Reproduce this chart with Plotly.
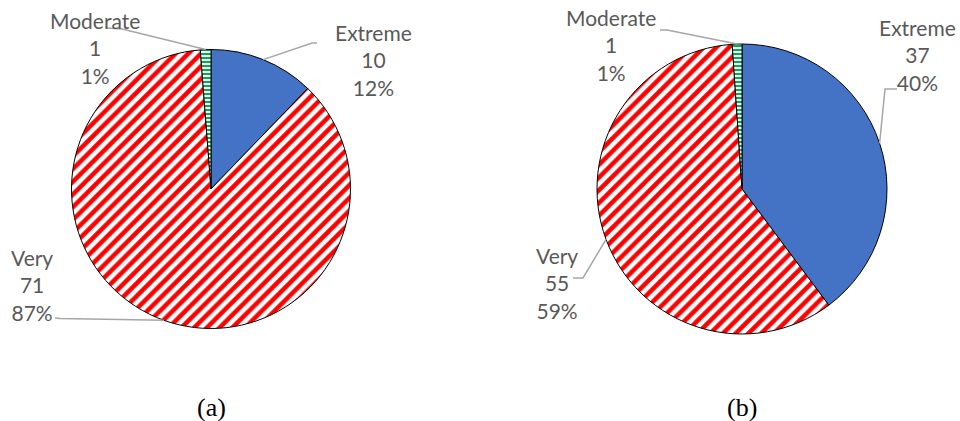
import math
import plotly.graph_objects as go

W, H = 960, 421

# Severity counts for the two groups
categories = ["Extreme", "Very", "Moderate"]
values_a = [10, 71, 1]
values_b = [37, 55, 1]
panel_titles = ["(a)", "(b)"]

slice_colors = ["#4472C4", "#FF0000", "#00B050"]
pattern_shapes = ["", "/", "-"]
pattern_bg = ["#4472C4", "white", "white"]
pattern_sizes = [8, 9, 4]

LABEL_FONT = dict(family="Lato", size=21, color="#595959")
LEADER_COLOR = "#A6A6A6"

# pie geometry in pixels: centre x, centre y, radius
pies = [
    dict(values=values_a, cx=211, cy=189, r=139.5),
    dict(values=values_b, cx=742, cy=189, r=145),
]

# per-slice label block centre and leader start / elbow (pixels)
label_layout = [
    [  # panel (a)
        dict(text=(373, 60), start=(317, 43), elbow=(312, 43)),
        dict(text=(32, 285), start=(55, 318), elbow=(60, 318.5)),
        dict(text=(95, 48), start=(107, 28), elbow=(122, 29)),
    ],
    [  # panel (b)
        dict(text=(917, 55), start=(897, 89), elbow=(885, 89)),
        dict(text=(557, 283), start=(573, 278), elbow=(583, 278)),
        dict(text=(611, 45), start=(660, 30), elbow=(667, 30)),
    ],
]


def px(x, y):
    return x / W, 1 - y / H


fig = go.Figure()
annotations = []
shapes = []

for k, pie in enumerate(pies):
    cx, cy, r = pie["cx"], pie["cy"], pie["r"]
    x0, y1 = px(cx - r, cy - r)
    x1, y0 = px(cx + r, cy + r)
    fig.add_trace(go.Pie(
        labels=categories,
        values=pie["values"],
        sort=False,
        direction="clockwise",
        rotation=0,
        textinfo="none",
        hoverinfo="label+value+percent",
        domain=dict(x=[x0, x1], y=[y0, y1]),
        marker=dict(
            colors=slice_colors,
            line=dict(color="black", width=1),
            pattern=dict(
                shape=pattern_shapes,
                fgcolor=slice_colors,
                bgcolor=pattern_bg,
                size=pattern_sizes,
                solidity=0.5,
                fillmode="replace",
            ),
        ),
    ))

    total = sum(pie["values"])
    cum = 0.0
    for i, v in enumerate(pie["values"]):
        mid = (cum + v / 2) / total * 2 * math.pi
        cum += v
        ex, ey = cx + r * math.sin(mid), cy - r * math.cos(mid)
        lay = label_layout[k][i]
        pct = round(100 * v / total)
        tx, ty = px(*lay["text"])
        annotations.append(dict(
            x=tx, y=ty, xref="paper", yref="paper",
            text=f"{categories[i]}<br>{v}<br>{pct}%",
            showarrow=False, font=LABEL_FONT,
            xanchor="center", yanchor="middle", align="center",
        ))
        pts = [lay["start"], lay["elbow"], (ex, ey)]
        path = "M " + " L ".join(
            f"{px(a, b)[0]:.5f},{px(a, b)[1]:.5f}" for a, b in pts)
        shapes.append(dict(type="path", xref="paper", yref="paper",
                           path=path, line=dict(color=LEADER_COLOR, width=1.5)))

    tx, ty = px(cx, 407)
    annotations.append(dict(
        x=tx, y=ty, xref="paper", yref="paper", text=panel_titles[k],
        showarrow=False, xanchor="center", yanchor="middle",
        font=dict(family="Liberation Serif", size=26, color="black"),
    ))

fig.update_layout(
    width=W, height=H,
    margin=dict(l=0, r=0, t=0, b=0),
    paper_bgcolor="white",
    plot_bgcolor="white",
    showlegend=False,
    annotations=annotations,
    shapes=shapes,
)

fig.write_html("out.html")
